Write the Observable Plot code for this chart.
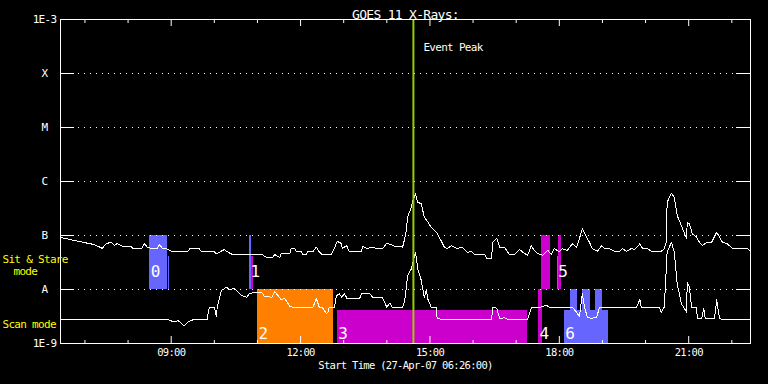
<!DOCTYPE html>
<html><head><meta charset="utf-8">
<script src="https://cdn.jsdelivr.net/npm/d3@7"></script>
<script src="https://cdn.jsdelivr.net/npm/@observablehq/plot@0.6"></script>
<style>html,body{margin:0;padding:0;background:#000;overflow:hidden}</style>
</head><body><div id="chart"></div>
<script>
const day = "2007-04-27";
const startTime = "06:26";
const endTime = "22:26";
const peakTime = "14:37";
const title = "GOES 11 X-Rays:";
const caption = "Start Time (27-Apr-07 06:26:00)";
const peakLabel = "Event Peak";

const classValues = [1e-3, 1e-4, 1e-5, 1e-6, 1e-7, 1e-8, 1e-9];
const classLabels = ["1E-3", "X", "M", "C", "B", "A", "1E-9"];
const gridValues = [1e-4, 1e-5, 1e-6, 1e-7, 1e-8];
const tickLabelHours = ["09:00", "12:00", "15:00", "18:00", "21:00"];

// Long channel (upper curve), W/m^2
const longTimes = ["06:26","06:45","06:59","07:13","07:24","07:30","07:37","07:41","07:45","07:52","08:05","08:06","08:19","08:23","08:27","08:34","08:40","08:44","08:48","08:53","09:02","09:23","09:26","09:39","09:42","10:00","10:03","10:14","10:18","10:25","11:07","11:10","11:14","11:21","11:24","11:31","11:33","11:45","11:47","11:52","11:54","12:01","12:03","12:08","12:10","12:17","12:22","12:26","12:30","12:43","12:47","12:51","12:57","12:58","13:04","13:08","13:25","13:26","13:33","13:39","13:47","13:54","14:00","14:06","14:11","14:18","14:22","14:25","14:27","14:29","14:34","14:36","14:40","14:43","14:48","14:52","14:57","15:02","15:09","15:13","15:20","15:24","15:30","15:38","15:45","15:52","15:58","16:02","16:16","16:19","16:26","16:27","16:33","16:37","16:44","16:48","16:51","16:58","17:05","17:09","17:16","17:21","17:25","17:30","17:37","17:44","17:49","17:53","18:00","18:04","18:11","18:18","18:24","18:28","18:32","18:38","18:42","18:46","18:53","18:59","19:03","19:10","19:17","19:24","19:28","19:33","19:40","19:45","19:52","19:56","20:03","20:08","20:22","20:26","20:29","20:30","20:36","20:40","20:44","20:51","20:57","20:58","21:01","21:05","21:11","21:15","21:19","21:25","21:32","21:39","21:43","21:47","21:54","22:01","22:22","22:26"];
const longFlux = [0.92e-7,0.81e-7,0.74e-7,0.68e-7,0.58e-7,0.71e-7,0.75e-7,0.65e-7,0.71e-7,0.63e-7,0.63e-7,0.57e-7,0.57e-7,0.71e-7,0.60e-7,0.57e-7,0.57e-7,0.68e-7,0.57e-7,0.57e-7,0.50e-7,0.50e-7,0.57e-7,0.57e-7,0.50e-7,0.50e-7,0.46e-7,0.55e-7,0.50e-7,0.445e-7,0.445e-7,0.41e-7,0.39e-7,0.39e-7,0.445e-7,0.39e-7,0.46e-7,0.46e-7,0.57e-7,0.57e-7,0.50e-7,0.50e-7,0.445e-7,0.445e-7,0.50e-7,0.50e-7,0.61e-7,0.50e-7,0.445e-7,0.445e-7,0.57e-7,0.78e-7,0.71e-7,0.57e-7,0.65e-7,0.50e-7,0.50e-7,0.63e-7,0.57e-7,0.61e-7,0.57e-7,0.57e-7,0.72e-7,0.68e-7,0.63e-7,0.63e-7,0.61e-7,0.88e-7,1.2e-7,2.2e-7,3.3e-7,4.45e-7,5.9e-7,4.1e-7,3.9e-7,2.2e-7,1.8e-7,1.4e-7,1.15e-7,0.93e-7,0.61e-7,0.57e-7,0.65e-7,0.57e-7,0.61e-7,0.49e-7,0.50e-7,0.445e-7,0.445e-7,0.38e-7,0.38e-7,0.75e-7,0.88e-7,0.61e-7,0.61e-7,0.49e-7,0.445e-7,0.445e-7,0.55e-7,0.49e-7,0.43e-7,0.65e-7,0.53e-7,0.46e-7,0.43e-7,0.53e-7,0.445e-7,0.57e-7,0.50e-7,0.57e-7,0.53e-7,0.70e-7,0.61e-7,0.88e-7,1.33e-7,0.93e-7,0.75e-7,0.57e-7,0.51e-7,0.65e-7,0.57e-7,0.57e-7,0.51e-7,0.51e-7,0.57e-7,0.51e-7,0.57e-7,0.55e-7,0.70e-7,0.57e-7,0.57e-7,0.51e-7,0.51e-7,0.57e-7,0.75e-7,4.1e-7,6.1e-7,5.1e-7,2.35e-7,1.4e-7,0.88e-7,1.76e-7,1.65e-7,1.08e-7,0.93e-7,0.75e-7,0.65e-7,0.75e-7,0.75e-7,1.15e-7,0.93e-7,0.75e-7,0.70e-7,0.57e-7,0.57e-7,0.51e-7];

// Short channel (lower curve), W/m^2
const shortTimes = ["06:26","08:55","08:58","09:05","09:09","09:14","09:18","09:23","09:28","09:32","09:50","09:53","10:00","10:03","10:04","10:10","10:17","10:21","10:28","10:32","10:38","10:45","10:49","10:56","11:06","11:10","11:20","11:24","11:33","11:38","11:45","11:49","11:52","12:17","12:22","12:26","12:30","12:36","12:38","12:40","12:47","12:50","12:54","12:57","13:01","13:05","13:22","13:25","13:36","13:40","13:54","14:00","14:04","14:08","14:22","14:25","14:29","14:34","14:40","14:43","14:48","14:52","14:55","14:57","15:02","15:09","15:10","15:16","16:26","16:27","16:33","16:37","16:44","16:48","17:16","17:21","17:32","17:42","17:46","18:14","18:18","18:24","18:28","18:32","18:35","18:39","18:45","18:52","18:56","19:47","19:49","19:52","19:54","19:58","20:19","20:22","20:26","20:30","20:36","20:40","20:44","20:50","20:54","20:57","20:58","21:01","21:04","21:11","21:12","21:18","21:21","21:23","21:36","21:39","21:40","21:43","21:46","22:26"];
const shortFlux = [0.28e-8,0.28e-8,0.267e-8,0.25e-8,0.267e-8,0.24e-8,0.21e-8,0.25e-8,0.267e-8,0.28e-8,0.28e-8,0.47e-8,0.47e-8,0.31e-8,0.47e-8,0.96e-8,1.1e-8,1.0e-8,1.04e-8,0.92e-8,0.77e-8,0.72e-8,0.84e-8,0.88e-8,0.88e-8,0.74e-8,0.72e-8,0.92e-8,0.65e-8,0.68e-8,0.49e-8,0.47e-8,0.46e-8,0.46e-8,0.68e-8,0.47e-8,0.47e-8,0.36e-8,0.38e-8,0.47e-8,0.47e-8,0.77e-8,0.84e-8,0.72e-8,0.84e-8,0.67e-8,0.67e-8,0.85e-8,0.85e-8,0.72e-8,0.70e-8,0.47e-8,0.56e-8,0.46e-8,0.46e-8,0.63e-8,1.8e-8,2.4e-8,4.9e-8,2.4e-8,1.47e-8,0.72e-8,0.96e-8,0.67e-8,0.46e-8,0.46e-8,0.29e-8,0.28e-8,0.28e-8,0.47e-8,0.45e-8,0.29e-8,0.30e-8,0.28e-8,0.28e-8,0.46e-8,0.46e-8,0.51e-8,0.47e-8,0.47e-8,0.47e-8,0.38e-8,0.31e-8,0.83e-8,0.47e-8,0.31e-8,0.29e-8,0.31e-8,0.47e-8,0.47e-8,0.51e-8,0.66e-8,0.47e-8,0.46e-8,0.46e-8,0.38e-8,0.47e-8,4.9e-8,7.5e-8,4.9e-8,1.27e-8,0.54e-8,0.45e-8,0.38e-8,1.37e-8,1.1e-8,0.47e-8,0.47e-8,0.29e-8,0.29e-8,0.44e-8,0.29e-8,0.29e-8,0.66e-8,0.51e-8,0.29e-8,0.28e-8,0.28e-8];

// Observation mode blocks
const blockStart = ["08:30","08:56","10:49","10:52","11:00","12:51","17:31","17:35","17:57","17:59","18:07","18:16","18:32","18:50"];
const blockEnd   = ["08:55","08:58","10:52","10:55","12:46","17:16","17:37","17:48","17:59","18:03","19:08","18:25","18:43","19:00"];
const blockLow   = [1e-8, 1e-8, 1e-8, 1e-8, 1e-9, 1e-9, 1e-9, 1e-8, 1e-8, 1e-8, 1e-9, 1e-9, 1e-9, 1e-9];
const blockHigh  = [1e-7, 4.1e-8, 1e-7, 4.1e-8, 1e-8, 4.1e-9, 1e-8, 1e-7, 4.1e-8, 1e-7, 4.1e-9, 1e-8, 1e-8, 1e-8];
const blockKind  = ["k1","k1","k1","k2","k3","k2","k2","k2","k1","k2","k1","k1","k1","k1"];
const kindNames  = ["k1","k2","k3"];
const kindColors = ["#6666ff","#cc00cc","#ff8000"];

const labelText = ["0","1","2","3","4","5","6"];
const labelTime = ["08:30","10:49","11:00","12:51","17:31","17:57","18:07"];
const labelFlux = [2.1e-8, 2.1e-8, 1.5e-9, 1.5e-9, 1.5e-9, 2.1e-8, 1.5e-9];

const modeText = ["Sit & Stare", "Scan mode"];
const modeFlux = [3.6e-8, 2.25e-9];
const modeText2 = ["mode"];
const modeFlux2 = [2.15e-8];

const T = t => new Date(`${day}T${t}:00Z`);
const longData = longTimes.map((t, i) => ({time: T(t), flux: longFlux[i]}));
const shortData = shortTimes.map((t, i) => ({time: T(t), flux: shortFlux[i]}));
const blocks = blockStart.map((s, i) => ({x1: T(s), x2: T(blockEnd[i]), y1: blockLow[i], y2: blockHigh[i], kind: blockKind[i]}));
const labels = labelText.map((s, i) => ({text: s, time: T(labelTime[i]), flux: labelFlux[i]}));
const hours = d3.utcHour.range(T("07:00"), T(endTime));
const major = tickLabelHours.map(T);
const minor = hours.filter(d => !tickLabelHours.includes(d3.utcFormat("%H:%M")(d)));

const PH = 324, PW = 690;

const chart = Plot.plot({
  width: 768, height: 384,
  marginLeft: 60, marginRight: 18, marginTop: 19, marginBottom: 41,
  style: "background:#000;color:#fff;font-family:'DejaVu Sans Mono',monospace;font-size:11px;letter-spacing:-0.7px;",
  x: {type: "utc", domain: [T(startTime), T(endTime)], axis: null},
  y: {type: "log", domain: [1e-9, 1e-3], axis: null},
  color: {type: "ordinal", domain: kindNames, range: kindColors},
  marks: [
    Plot.rect(blocks, {x1: "x1", x2: "x2", y1: "y1", y2: "y2", fill: "kind", shapeRendering: "crispEdges"}),
    Plot.ruleY(gridValues, {stroke: "#fff", strokeDasharray: "1,5"}),
    Plot.ruleY(classValues, {stroke: "#fff", insetRight: PW - 14}),
    Plot.ruleY(classValues, {stroke: "#fff", insetLeft: PW - 14}),
    Plot.ruleX(minor, {stroke: "#fff", insetBottom: PH - 4}),
    Plot.ruleX(major, {stroke: "#fff", insetBottom: PH - 7}),
    Plot.ruleX(minor, {stroke: "#fff", insetTop: PH - 3}),
    Plot.ruleX(major, {stroke: "#fff", insetTop: PH - 7}),
    Plot.line(longData, {x: "time", y: "flux", stroke: "#fff", strokeWidth: 1, shapeRendering: "crispEdges"}),
    Plot.line(shortData, {x: "time", y: "flux", stroke: "#fff", strokeWidth: 1, shapeRendering: "crispEdges"}),
    Plot.ruleX([T(peakTime)], {stroke: "#99cc00", strokeWidth: 2}),
    Plot.frame({stroke: "#fff"}),
    Plot.text(labels, {x: "time", y: "flux", text: "text", textAnchor: "start", dx: 1, fill: "#fff", fontSize: 16}),
    Plot.text(classLabels, {frameAnchor: "left", y: (d, i) => classValues[i], text: d => d, textAnchor: "middle", dx: -16, fill: "#fff"}),
    Plot.text(major, {x: d => d, frameAnchor: "bottom", dy: 12, text: d3.utcFormat("%H:%M"), fontSize: 10.5, fill: "#fff"}),
    Plot.text([caption], {frameAnchor: "bottom", dy: 25, fontSize: 10.5, fill: "#fff"}),
    Plot.text([title], {frameAnchor: "top", dy: -10, fontSize: 13, fill: "#fff"}),
    Plot.text([peakLabel], {x: () => T(peakTime), frameAnchor: "top", dy: 24, dx: 10, textAnchor: "start", fill: "#fff"}),
    Plot.text(modeText, {frameAnchor: "left", y: (d, i) => modeFlux[i], text: d => d, textAnchor: "start", dx: -58, fill: "#ffff00"}),
    Plot.text(modeText2, {frameAnchor: "left", y: (d, i) => modeFlux2[i], text: d => d, textAnchor: "start", dx: -47, fill: "#ffff00"})
  ]
});
document.getElementById("chart").appendChild(chart);
</script>
</body></html>
